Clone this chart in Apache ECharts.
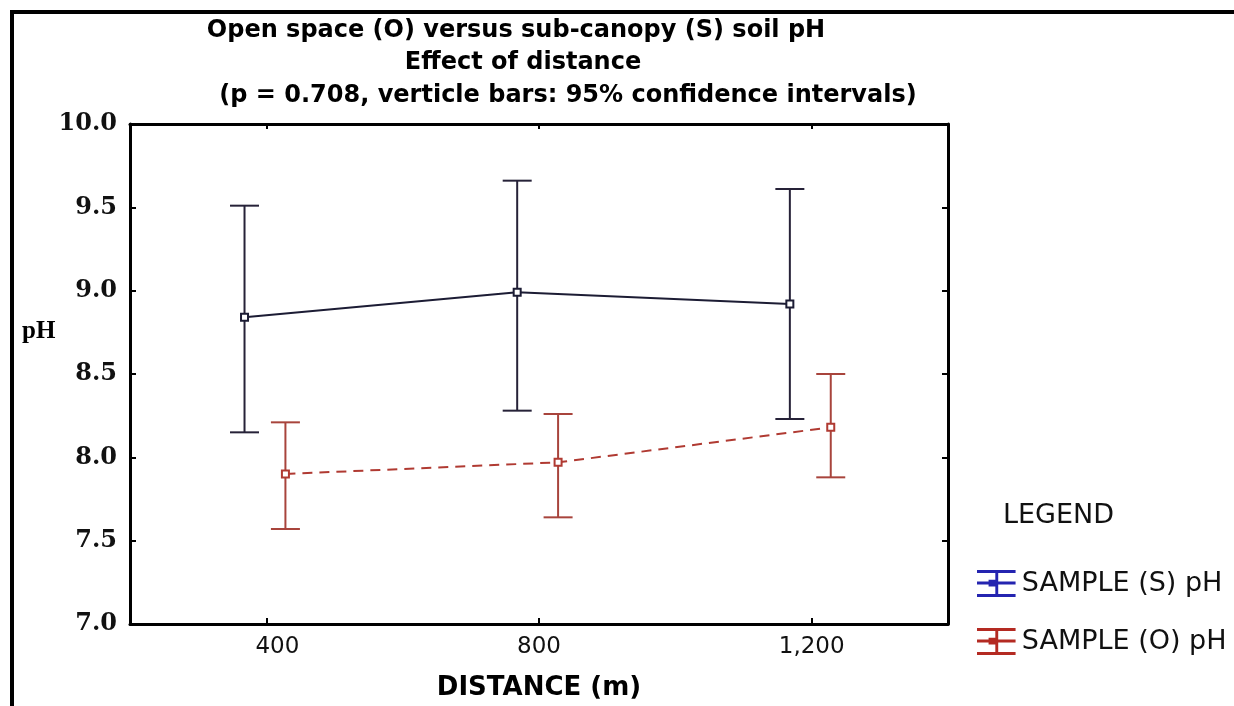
<!DOCTYPE html>
<html>
<head>
<meta charset="utf-8">
<script src="https://cdn.jsdelivr.net/npm/echarts@6/dist/echarts.min.js"></script>
<style>
  html, body { margin: 0; padding: 0; background: #fff; }
  #chart { width: 1234px; height: 706px; }
</style>
</head>
<body>
<div id="chart"></div>
<script>
// Distance categories and their numeric positions (m)
const distanceLabels = ['400', '800', '1,200'];
const distanceValues = [400, 800, 1200];

// Sub-canopy (S) soil pH: means and 95% confidence limits
const sMean = [8.84, 8.99, 8.92];
const sLow = [8.15, 8.28, 8.23];
const sHigh = [9.51, 9.66, 9.61];

// Open space (O) soil pH: means and 95% confidence limits
const oMean = [7.90, 7.97, 8.18];
const oLow = [7.57, 7.64, 7.88];
const oHigh = [8.21, 8.26, 8.50];

const seriesNames = ['SAMPLE (S) pH', 'SAMPLE (O) pH'];

// Horizontal dodge (in metres) so the two groups do not overlap
const dodgeS = -32;
const dodgeO = 28;

const chart = echarts.init(document.getElementById('chart'));

function points(means, dodge) {
  return distanceValues.map((d, i) => [d + dodge, means[i]]);
}
function intervals(lows, highs, dodge) {
  return distanceValues.map((d, i) => [d + dodge, lows[i], highs[i]]);
}

function errorBar(color, width) {
  const capHalf = 14.5;
  return function (params, api) {
    const x = api.value(0);
    const lo = api.coord([x, api.value(1)]);
    const hi = api.coord([x, api.value(2)]);
    const st = { stroke: color, lineWidth: width };
    return {
      type: 'group',
      children: [
        { type: 'line', shape: { x1: lo[0], y1: lo[1], x2: hi[0], y2: hi[1] }, style: st },
        { type: 'line', shape: { x1: lo[0] - capHalf, y1: lo[1], x2: lo[0] + capHalf, y2: lo[1] }, style: st },
        { type: 'line', shape: { x1: hi[0] - capHalf, y1: hi[1], x2: hi[0] + capHalf, y2: hi[1] }, style: st }
      ]
    };
  };
}

// Error-bar glyph used in the legend
const barIcon = 'path://M0,0H40V3H0Z M0,12H40V15H0Z M0,25H40V28H0Z M19,0H22V28H19Z M12,10H19V17H12Z';

const axisLine = { show: true, lineStyle: { color: '#000', width: 3 } };
const titleFont = 'bold 24px "DejaVu Sans"';

chart.setOption({
  backgroundColor: '#fff',
  animation: false,
  grid: { left: 130, right: 286, top: 124, bottom: 82, containLabel: false, outerBoundsMode: 'none' },
  graphic: [
    {
      type: 'rect', silent: true,
      shape: { x: 12, y: 12, width: 1300, height: 800 },
      style: { fill: null, stroke: '#000', lineWidth: 4 }
    },
    {
      type: 'text', style: {
        text: 'Open space (O) versus sub-canopy (S) soil pH', x: 516, y: 31,
        align: 'center', verticalAlign: 'middle', font: titleFont, fill: '#000'
      }
    },
    {
      type: 'text', style: {
        text: 'Effect of distance', x: 523, y: 63,
        align: 'center', verticalAlign: 'middle', font: titleFont, fill: '#000'
      }
    },
    {
      type: 'text', style: {
        text: '(p = 0.708, verticle bars: 95% confidence intervals)', x: 568, y: 96,
        align: 'center', verticalAlign: 'middle', font: titleFont, fill: '#000'
      }
    },
    {
      type: 'text', style: {
        text: 'pH', x: 22, y: 332, align: 'left', verticalAlign: 'middle',
        font: 'bold 25px "Liberation Serif"', fill: '#000'
      }
    },
    {
      type: 'text', style: {
        text: 'LEGEND', x: 1003, y: 516, align: 'left', verticalAlign: 'middle',
        font: '27px "DejaVu Sans"', fill: '#111'
      }
    }
  ],
  legend: {
    orient: 'vertical',
    left: 972,
    top: 565,
    itemWidth: 39,
    itemHeight: 27,
    itemGap: 31,
    textStyle: { fontFamily: 'DejaVu Sans', fontSize: 27, color: '#111', padding: [0, 0, 0, 1] },
    data: [
      { name: seriesNames[0], icon: barIcon, itemStyle: { color: '#2424b0', borderWidth: 0 } },
      { name: seriesNames[1], icon: barIcon, itemStyle: { color: '#b42a22', borderWidth: 0 } }
    ]
  },
  xAxis: [
    {
      type: 'category', position: 'bottom', data: distanceLabels, boundaryGap: true,
      name: 'DISTANCE (m)', nameLocation: 'middle', nameGap: 51,
      nameTextStyle: { fontFamily: 'DejaVu Sans', fontWeight: 'bold', fontSize: 26, color: '#000' },
      axisLine: axisLine,
      axisTick: { show: true, inside: true, alignWithLabel: true, length: 6, lineStyle: { color: '#000', width: 2 } },
      axisLabel: {
        fontFamily: 'DejaVu Sans', fontSize: 23, color: '#111', margin: 12,
        formatter: (v, i) => (i === 0 ? '{first|' + v + '}' : v),
        rich: { first: { fontFamily: 'DejaVu Sans', fontSize: 23, color: '#111', padding: [0, 0, 0, 22] } }
      },
      splitLine: { show: false }
    },
    {
      type: 'category', position: 'top', data: distanceLabels, boundaryGap: true,
      axisLine: axisLine,
      axisTick: { show: true, inside: true, alignWithLabel: true, length: 5, lineStyle: { color: '#000', width: 2 } },
      axisLabel: { show: false },
      splitLine: { show: false }
    },
    {
      type: 'value', show: false, min: 200, max: 1400
    }
  ],
  yAxis: [
    {
      type: 'value', min: 7, max: 10, interval: 0.5, position: 'left',
      axisLine: axisLine,
      axisTick: { show: true, inside: true, length: 6, lineStyle: { color: '#000', width: 2 } },
      axisLabel: {
        fontFamily: 'DejaVu Serif', fontWeight: 'bold', fontSize: 24, color: '#111', margin: 13,
        formatter: v => v.toFixed(1)
      },
      splitLine: { show: false }
    },
    {
      type: 'value', min: 7, max: 10, interval: 0.5, position: 'right',
      axisLine: axisLine,
      axisTick: { show: true, inside: true, length: 6, lineStyle: { color: '#000', width: 2 } },
      axisLabel: { show: false },
      splitLine: { show: false }
    }
  ],
  series: [
    {
      type: 'custom', name: seriesNames[0] + ' CI', xAxisIndex: 2, yAxisIndex: 0,
      renderItem: errorBar('#262238', 2),
      encode: { x: 0, y: [1, 2] },
      data: intervals(sLow, sHigh, dodgeS), z: 2
    },
    {
      type: 'custom', name: seriesNames[1] + ' CI', xAxisIndex: 2, yAxisIndex: 0,
      renderItem: errorBar('#a8443c', 2),
      encode: { x: 0, y: [1, 2] },
      data: intervals(oLow, oHigh, dodgeO), z: 2
    },
    {
      type: 'line', name: seriesNames[0], xAxisIndex: 2, yAxisIndex: 0,
      data: points(sMean, dodgeS),
      symbol: 'rect', symbolSize: 7, showSymbol: true,
      lineStyle: { color: '#1c1c34', width: 2 },
      itemStyle: { color: '#fff', borderColor: '#1c1c34', borderWidth: 2 },
      z: 3
    },
    {
      type: 'line', name: seriesNames[1], xAxisIndex: 2, yAxisIndex: 0,
      data: points(oMean, dodgeO),
      symbol: 'rect', symbolSize: 7, showSymbol: true,
      lineStyle: { color: '#b03a32', width: 2, type: [10, 7] },
      itemStyle: { color: '#fff', borderColor: '#b03a32', borderWidth: 2 },
      z: 3
    }
  ]
});
</script>
</body>
</html>
